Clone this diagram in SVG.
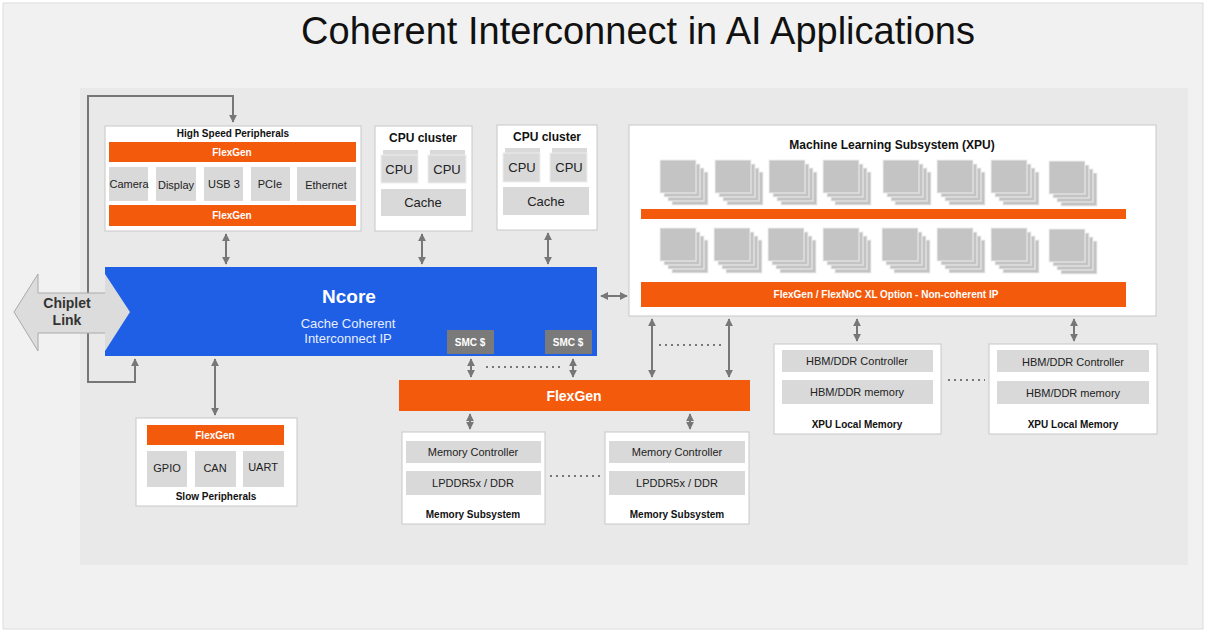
<svg xmlns="http://www.w3.org/2000/svg" width="1208" height="636" viewBox="0 0 1208 636">
<defs>
<marker id="ah" viewBox="0 0 10 10" refX="9" refY="5" markerWidth="4" markerHeight="4" orient="auto-start-reverse"><path d="M0,0L10,5L0,10z" fill="#777"/></marker>
<g id="stack"><rect x="12" y="12" width="36" height="33" class="t"/><rect x="8" y="8" width="36" height="33" class="t"/><rect x="4" y="4" width="36" height="33" class="t"/><rect x="0" y="0" width="36" height="33" class="t"/></g>
</defs>
<style>
text{font-family:"Liberation Sans",Arial,sans-serif;text-anchor:middle}
.box{fill:#fff;stroke:#c8c8c8;stroke-width:1}
.or{fill:#f45a0c}
.g{fill:#d9d9d9}
.t{fill:#c4c4c4;stroke:#eee;stroke-width:1}
.ow{fill:#fff;font-weight:bold;font-size:10px}
.lb{fill:#222;font-size:11px}
.bb{fill:#111;font-weight:bold;font-size:10px}
.ln{stroke:#777;stroke-width:2;fill:none}
.ar{stroke:#777;stroke-width:2;fill:none;marker-start:url(#ah);marker-end:url(#ah)}
.dot{stroke:#777;stroke-width:2;stroke-dasharray:2 4;fill:none}
</style>
<rect x="0" y="0" width="1208" height="636" fill="#fff"/>
<rect x="3" y="3" width="1200" height="626" fill="#f1f1f1" stroke="#ddd"/>
<rect x="80" y="88" width="1108" height="477" fill="#e9e9e9"/>
<text x="638" y="44" font-size="38" fill="#111">Coherent Interconnect in AI Applications</text>

<g id="connectors">
<path class="ln" d="M135,370V382H88V96H233V122" marker-end="url(#ah)"/>
<path class="ln" d="M135,382V359" marker-end="url(#ah)"/>
<path class="ar" d="M226,234V264"/>
<path class="ar" d="M422,234V264"/>
<path class="ar" d="M548,233V264"/>
<path class="ar" d="M601,296H627"/>
<path class="ar" d="M215,359V415"/>
<path class="ar" d="M471,359V377"/>
<path class="ar" d="M573,359V377"/>
<path class="dot" d="M486,367H560"/>
<path class="ar" d="M652,319V377"/>
<path class="ar" d="M729,319V377"/>
<path class="dot" d="M659,345H722"/>
<path class="ar" d="M470,414V429"/>
<path class="ar" d="M690,414V429"/>
<path class="dot" d="M550,476H602"/>
<path class="ar" d="M857,319V341"/>
<path class="ar" d="M1074,319V341"/>
<path class="dot" d="M948,380H985"/>
<path class="dot" d="M500,342H540" stroke="#9bb6f0"/>
</g>

<g id="chiplet">
<path d="M14,312L38,274V293H106V274L130,312L106,351V333H38V351Z" fill="#dcdcdc" stroke="#aaa"/>
<text x="67" y="308" font-size="14" font-weight="bold" fill="#333">Chiplet</text>
<text x="67" y="325" font-size="14" font-weight="bold" fill="#333">Link</text>
</g>

<g id="ncore">
<rect x="105" y="267" width="492" height="89" fill="#1f5fe6"/>
<path d="M105,274L130,312L105,351Z" fill="#dcdcdc"/>
<text x="349" y="303" font-size="19" font-weight="bold" fill="#fff">Ncore</text>
<text x="348" y="328" font-size="13" fill="#e6eeff">Cache Coherent</text>
<text x="348" y="343" font-size="13" fill="#e6eeff">Interconnect IP</text>
<rect x="447" y="330" width="47" height="24" fill="#7a7a7a"/>
<text x="470" y="346" class="ow">SMC $</text>
<rect x="545" y="330" width="47" height="24" fill="#7a7a7a"/>
<text x="568" y="346" class="ow">SMC $</text>
</g>

<g id="hsp">
<rect class="box" x="105" y="126" width="256" height="105"/>
<text x="233" y="137" class="bb" font-size="9">High Speed Peripherals</text>
<rect class="or" x="109" y="142" width="247" height="20"/>
<text x="232" y="156" class="ow">FlexGen</text>
<rect class="g" x="109" y="167" width="39" height="34"/><text x="129" y="188" class="lb" font-size="10">Camera</text>
<rect class="g" x="156" y="167" width="40" height="34"/><text x="176" y="189" class="lb" font-size="10">Display</text>
<rect class="g" x="204" y="167" width="39" height="34"/><text x="224" y="188" class="lb" font-size="10">USB 3</text>
<rect class="g" x="251" y="167" width="39" height="34"/><text x="270" y="188" class="lb" font-size="10">PCIe</text>
<rect class="g" x="297" y="167" width="59" height="34"/><text x="326" y="189" class="lb" font-size="10">Ethernet</text>
<rect class="or" x="109" y="205" width="247" height="21"/>
<text x="232" y="219" class="ow">FlexGen</text>
</g>

<g id="cpu1">
<rect class="box" x="375" y="126" width="97" height="105"/>
<text x="423" y="142" font-size="12" font-weight="bold" fill="#111">CPU cluster</text>
<rect class="g" x="383" y="150" width="35" height="10"/><rect class="g" x="430" y="150" width="35" height="10"/>
<rect class="g" x="381" y="155" width="37" height="28" stroke="#eee"/><text x="399" y="174" font-size="13" fill="#222">CPU</text>
<rect class="g" x="428" y="155" width="38" height="28" stroke="#eee"/><text x="447" y="174" font-size="13" fill="#222">CPU</text>
<rect class="g" x="381" y="189" width="85" height="27"/><text x="423" y="207" font-size="13" fill="#222">Cache</text>
</g>

<g id="cpu2">
<rect class="box" x="497" y="125" width="100" height="105"/>
<text x="547" y="141" font-size="12" font-weight="bold" fill="#111">CPU cluster</text>
<rect class="g" x="505" y="148" width="35" height="10"/><rect class="g" x="552" y="148" width="35" height="10"/>
<rect class="g" x="503" y="153" width="37" height="29" stroke="#eee"/><text x="522" y="172" font-size="13" fill="#222">CPU</text>
<rect class="g" x="550" y="153" width="37" height="29" stroke="#eee"/><text x="569" y="172" font-size="13" fill="#222">CPU</text>
<rect class="g" x="503" y="187" width="86" height="28"/><text x="546" y="206" font-size="13" fill="#222">Cache</text>
</g>

<g id="ml">
<rect class="box" x="629" y="125" width="527" height="191"/>
<text x="892" y="149" font-size="12" font-weight="bold" fill="#111">Machine Learning Subsystem (XPU)</text>
<use href="#stack" x="660" y="160"/><use href="#stack" x="715" y="160"/><use href="#stack" x="769" y="160"/><use href="#stack" x="823" y="160"/>
<use href="#stack" x="883" y="160"/><use href="#stack" x="937" y="160"/><use href="#stack" x="991" y="160"/><use href="#stack" x="1049" y="161"/>
<rect class="or" x="641" y="209" width="485" height="10"/>
<use href="#stack" x="660" y="228"/><use href="#stack" x="714" y="228"/><use href="#stack" x="768" y="228"/><use href="#stack" x="823" y="228"/>
<use href="#stack" x="882" y="228"/><use href="#stack" x="937" y="228"/><use href="#stack" x="991" y="228"/><use href="#stack" x="1049" y="229"/>
<rect class="or" x="641" y="282" width="485" height="25"/>
<text x="886" y="298" class="ow">FlexGen / FlexNoC XL Option - Non-coherent IP</text>
</g>

<g id="flexgen">
<rect class="or" x="399" y="380" width="351" height="31"/>
<text x="574" y="401" font-size="14" font-weight="bold" fill="#fff">FlexGen</text>
</g>

<g id="slow">
<rect class="box" x="136" y="418" width="161" height="88"/>
<rect class="or" x="147" y="425" width="137" height="20"/>
<text x="215" y="439" class="ow">FlexGen</text>
<rect class="g" x="147" y="451" width="40" height="36"/><text x="167" y="472" class="lb" font-size="10">GPIO</text>
<rect class="g" x="195" y="451" width="41" height="36"/><text x="215" y="472" class="lb" font-size="10">CAN</text>
<rect class="g" x="243" y="451" width="41" height="36"/><text x="263" y="471" class="lb" font-size="10">UART</text>
<text x="216" y="500" class="bb" font-size="8">Slow Peripherals</text>
</g>

<g id="mem1">
<rect class="box" x="402" y="432" width="143" height="92"/>
<rect class="g" x="406" y="441" width="135" height="22"/><text x="473" y="456" class="lb" font-size="10">Memory Controller</text>
<rect class="g" x="406" y="471" width="135" height="24"/><text x="473" y="487" class="lb" font-size="10">LPDDR5x / DDR</text>
<text x="473" y="518" class="bb" font-size="9">Memory Subsystem</text>
</g>
<g id="mem2">
<rect class="box" x="605" y="432" width="144" height="92"/>
<rect class="g" x="609" y="441" width="136" height="22"/><text x="677" y="456" class="lb" font-size="10">Memory Controller</text>
<rect class="g" x="609" y="471" width="136" height="24"/><text x="677" y="487" class="lb" font-size="10">LPDDR5x / DDR</text>
<text x="677" y="518" class="bb" font-size="9">Memory Subsystem</text>
</g>

<g id="xpu1">
<rect class="box" x="774" y="344" width="167" height="90"/>
<rect class="g" x="782" y="350" width="151" height="22"/><text x="857" y="365" class="lb" font-size="10">HBM/DDR Controller</text>
<rect class="g" x="782" y="380" width="151" height="24"/><text x="857" y="396" class="lb" font-size="10">HBM/DDR memory</text>
<text x="857" y="428" class="bb">XPU Local Memory</text>
</g>
<g id="xpu2">
<rect class="box" x="989" y="344" width="168" height="90"/>
<rect class="g" x="997" y="350" width="152" height="22"/><text x="1073" y="366" class="lb" font-size="10">HBM/DDR Controller</text>
<rect class="g" x="997" y="381" width="152" height="23"/><text x="1073" y="397" class="lb" font-size="10">HBM/DDR memory</text>
<text x="1073" y="428" class="bb">XPU Local Memory</text>
</g>
</svg>
